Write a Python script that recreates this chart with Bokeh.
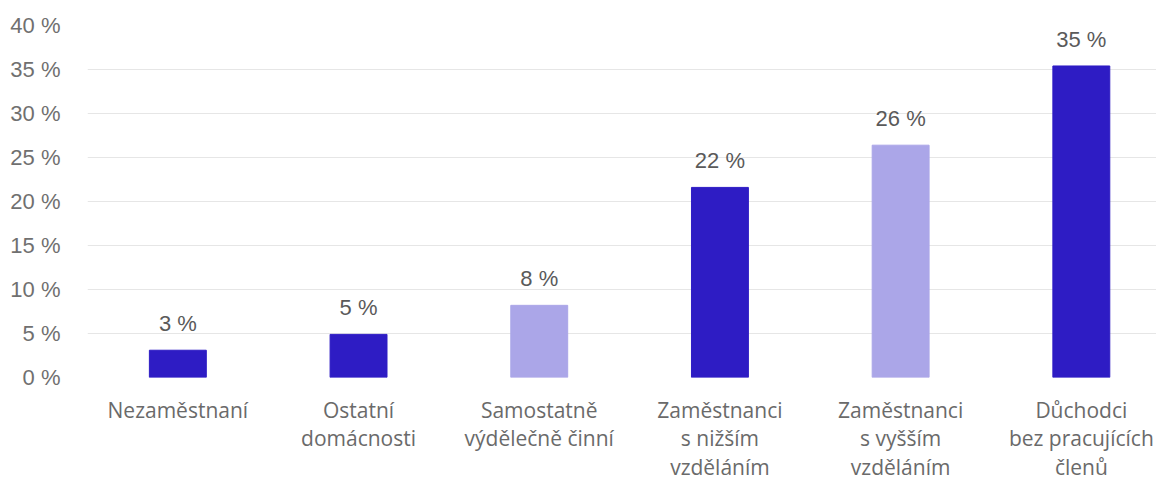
from bokeh.plotting import figure
from bokeh.models import Range1d, FixedTicker, ColumnDataSource
from bokeh.core.properties import value
from bokeh.embed import file_html
from bokeh.resources import INLINE

categories = ["Nezaměstnaní", "Ostatní\ndomácnosti", "Samostatně\nvýdělečně činní",
              "Zaměstnanci\ns nižším\nvzděláním", "Zaměstnanci\ns vyšším\nvzděláním",
              "Důchodci\nbez pracujících\nčlenů"]
values = [3.1, 4.9, 8.2, 21.6, 26.4, 35.4]
value_labels = ["3 %", "5 %", "8 %", "22 %", "26 %", "35 %"]
colors = ["#2E1CC4", "#2E1CC4", "#ABA6E8", "#2E1CC4", "#ABA6E8", "#2E1CC4"]
y_ticks = [0, 5, 10, 15, 20, 25, 30, 35, 40]

idx = list(range(len(categories)))
src = ColumnDataSource(dict(x=idx, top=values, lab=value_labels, color=colors))

p = figure(width=1156, height=484, output_backend="svg", toolbar_location=None,
           x_range=Range1d(-0.5, 5.416), y_range=Range1d(0, 40),
           min_border_left=87, min_border_right=0, min_border_top=25, min_border_bottom=105)
p.outline_line_color = None
p.background_fill_color = "white"
p.border_fill_color = "white"

p.vbar(x="x", top="top", width=0.315, bottom=0, color="color", source=src)
p.text(x="x", y="top", text="lab", source=src, text_align="center", text_baseline="bottom",
       y_offset=-14, text_font=value("Liberation Sans"), text_font_size="22px", text_color="#5a5a5a")

p.xgrid.grid_line_color = None
p.ygrid.grid_line_color = "#e6e6e6"
p.ygrid.ticker = FixedTicker(ticks=y_ticks)

p.yaxis.ticker = FixedTicker(ticks=y_ticks)
p.yaxis.major_label_overrides = {t: f"{t} %" for t in y_ticks}
p.yaxis.axis_line_color = None
p.yaxis.major_tick_line_color = None
p.yaxis.minor_tick_line_color = None
p.yaxis.major_label_standoff = 21
p.yaxis.major_label_text_font = "Liberation Sans"
p.yaxis.major_label_text_font_size = "22px"
p.yaxis.major_label_text_color = "#707070"

p.xaxis.ticker = FixedTicker(ticks=idx)
p.xaxis.major_label_overrides = {i: c for i, c in zip(idx, categories)}
p.xaxis.axis_line_color = None
p.xaxis.major_tick_line_color = None
p.xaxis.minor_tick_line_color = None
p.xaxis.major_label_standoff = 12
p.xaxis.major_label_text_font = "Open Sans"
p.xaxis.major_label_text_font_size = "21px"
p.xaxis.major_label_text_color = "#6a6a6a"
p.xaxis.major_label_text_line_height = 1.03

open("out.html", "w").write(file_html(p, INLINE))
